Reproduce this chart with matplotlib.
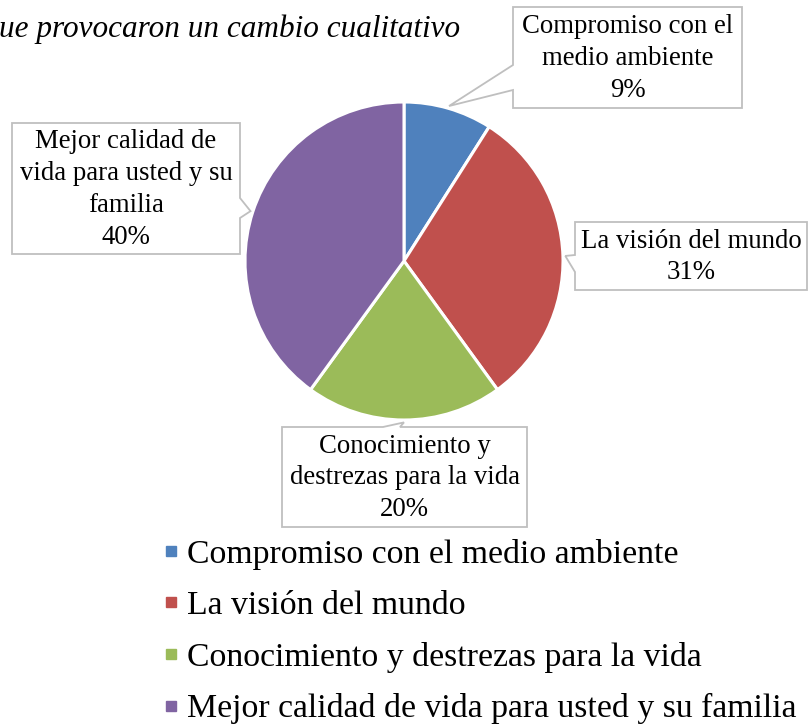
import matplotlib
matplotlib.use('Agg')
import matplotlib.pyplot as plt
import numpy as np
from matplotlib.patches import Polygon
from matplotlib.lines import Line2D

categories = ["Compromiso con el medio ambiente", "La visión del mundo",
              "Conocimiento y destrezas para la vida",
              "Mejor calidad de vida para usted y su familia"]
values = [9, 31, 20, 40]
label_lines = ["Compromiso con el\nmedio ambiente", "La visión del mundo",
               "Conocimiento y\ndestrezas para la vida",
               "Mejor calidad de\nvida para usted y su\nfamilia"]
colors = ["#4F81BD", "#C0504D", "#9BBB59", "#8064A2"]
title_text = "ue provocaron un cambio cualitativo"

plt.rcParams['font.family'] = ['Liberation Serif', 'DejaVu Serif']

W, H = 808, 725
fig = plt.figure(figsize=(W / 100, H / 100), dpi=100)
ax = fig.add_axes([0, 0, 1, 1])

cx, cy, R = 404, H - 261, 159
wedges, _ = ax.pie(values, colors=colors, startangle=90, counterclock=False,
                   center=(cx, cy), radius=R, frame=True,
                   wedgeprops=dict(edgecolor='white', linewidth=2.2))
ax.set_xlim(0, W)
ax.set_ylim(0, H)
ax.set_aspect('equal')
ax.axis('off')

# callout tips from wedge mid-angles
vals = np.array(values, dtype=float)
cum = np.concatenate([[0], np.cumsum(vals)])
mid = np.deg2rad(90 - 360 * (cum[:-1] + vals / 2) / vals.sum())
tips = [(cx + 1.015 * R * np.cos(a), cy + 1.015 * R * np.sin(a)) for a in mid]

# box layout (pixels, y measured from top): x0, x1, ytop, ybot, side, p1, p2
boxes = [
    (513, 742, 7, 108, 'left', 65, 90),
    (575, 807, 222, 290, 'left', 255, 272),
    (282, 527, 427, 527, 'top', 383, 400),
    (12, 240, 123, 254, 'right', 198, 218),
]

def callout_poly(x0, x1, yt, yb, side, p1, p2, tip):
    y1 = H - yt
    y0 = H - yb
    if side == 'left':
        hi, lo = H - p1, H - p2
        pts = [(x0, y0), (x1, y0), (x1, y1), (x0, y1), (x0, hi), tip, (x0, lo)]
    elif side == 'right':
        hi, lo = H - p1, H - p2
        pts = [(x0, y0), (x1, y0), (x1, lo), tip, (x1, hi), (x1, y1), (x0, y1)]
    else:
        pts = [(x0, y0), (x1, y0), (x1, y1), (p2, y1), tip, (p1, y1), (x0, y1)]
    return pts

for i, b in enumerate(boxes):
    x0, x1, yt, yb, side, p1, p2 = b
    pts = callout_poly(x0, x1, yt, yb, side, p1, p2, tips[i])
    ax.add_patch(Polygon(pts, closed=True, facecolor='white', edgecolor='#BFBFBF',
                         linewidth=1.3, zorder=3))
    txt = f"{label_lines[i]}\n{values[i]}%"
    ax.text((x0 + x1) / 2, H - (yt + yb) / 2 - 1, txt, ha='center', va='center',
            fontsize=19.3, linespacing=1.36, color='black', zorder=4)

ax.text(-1, H - 37, title_text, ha='left', va='baseline', fontsize=22.5,
        style='italic', color='black')

handles = [Line2D([], [], linestyle='none', marker='s', markersize=7.9,
                  markerfacecolor=c, markeredgecolor=c) for c in colors]
leg = ax.legend(handles, categories, loc='upper left',
                bbox_to_anchor=(161 / W, 1 - 539 / H), bbox_transform=fig.transFigure,
                frameon=False, fontsize=24.3, handlelength=0.6, handletextpad=0.18,
                labelspacing=0.61, borderpad=0, borderaxespad=0)

fig.savefig('out.png', dpi=100, facecolor='white')
